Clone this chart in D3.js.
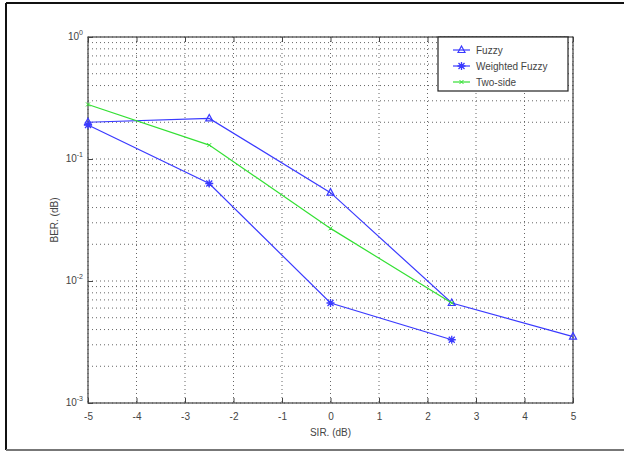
<!DOCTYPE html>
<html>
<head>
<meta charset="utf-8">
<script src="https://cdn.jsdelivr.net/npm/d3@7"></script>
<style>
  body { margin: 0; background: #fff; }
  text { font-family: "Liberation Sans", Arial, sans-serif; fill: #444; }
</style>
</head>
<body>
<svg></svg>
<script>
const sir = [-5, -2.5, 0, 2.5, 5];
const fuzzy = [0.20, 0.215, 0.053, 0.0066, 0.0035];
const weighted = [0.19, 0.063, 0.0066, 0.0033];
const twoSide = [0.28, 0.13, 0.027, 0.0066];
const xTicks = [-5, -4, -3, -2, -1, 0, 1, 2, 3, 4, 5];
const yTicks = [1, 0.1, 0.01, 0.001];
const yExp = ["0", "-1", "-2", "-3"];

const width = 624;
const height = 452;
const plotL = 88, plotR = 573, plotT = 37, plotB = 403;

const svg = d3.select('svg')
    .attr("width", width)
    .attr("height", height);

// outer frame
svg.append("line").attr("x1", 6).attr("x2", 6).attr("y1", 3).attr("y2", 450)
    .attr("stroke", "#111").attr("stroke-width", 2);
svg.append("line").attr("x1", 6).attr("x2", 624).attr("y1", 3).attr("y2", 3)
    .attr("stroke", "#111").attr("stroke-width", 2);
svg.append("line").attr("x1", 6).attr("x2", 624).attr("y1", 450).attr("y2", 450)
    .attr("stroke", "#777").attr("stroke-width", 2);

const x = d3.scaleLinear().domain([-5, 5]).range([plotL, plotR]);
const y = d3.scaleLog().domain([0.001, 1]).range([plotB, plotT]);

// grid
const minor = [];
[0.001, 0.01, 0.1].forEach(d => { for (let k = 1; k < 10; k++) minor.push(d * k); });
minor.push(1);

svg.append("g").selectAll("line").data(minor).enter().append("line")
    .attr("x1", plotL).attr("x2", plotR)
    .attr("y1", d => y(d)).attr("y2", d => y(d))
    .attr("stroke", "#666").attr("stroke-width", 1)
    .attr("stroke-dasharray", "1,3");

svg.append("g").selectAll("line").data(xTicks).enter().append("line")
    .attr("x1", d => x(d)).attr("x2", d => x(d))
    .attr("y1", plotT).attr("y2", plotB)
    .attr("stroke", "#666").attr("stroke-width", 1)
    .attr("stroke-dasharray", "1,3");

// axes (ticks inward, box)
svg.append("g")
    .attr("transform", `translate(0, ${plotB})`)
    .call(d3.axisBottom(x).tickValues(xTicks).tickSize(-5).tickPadding(10).tickFormat(d3.format("d")))
    .call(g => g.select(".domain").remove())
    .call(g => g.selectAll("line").attr("stroke", "#444"))
    .call(g => g.selectAll("text").attr("font-size", 10).attr("fill", "#444")
        .text(d => d < 0 ? "-" + Math.abs(d) : d));

svg.append("g")
    .attr("transform", `translate(0, ${plotT})`)
    .call(d3.axisTop(x).tickValues(xTicks).tickSize(-5).tickFormat(""))
    .call(g => g.select(".domain").remove())
    .call(g => g.selectAll("line").attr("stroke", "#444"));

const yAxis = svg.append("g")
    .attr("transform", `translate(${plotL}, 0)`)
    .call(d3.axisLeft(y).tickValues(yTicks).tickSize(-5).tickPadding(8).tickFormat(""))
    .call(g => g.select(".domain").remove())
    .call(g => g.selectAll("line").attr("stroke", "#444"));

yAxis.selectAll(".tick").append("text")
    .attr("x", -5).attr("y", 2)
    .attr("text-anchor", "end")
    .attr("font-size", 10)
    .each(function(d, i) {
        const t = d3.select(this);
        t.append("tspan").text("10");
        t.append("tspan").attr("dy", -5).attr("font-size", 7).text(yExp[i]);
    });

svg.append("rect")
    .attr("x", plotL).attr("y", plotT)
    .attr("width", plotR - plotL).attr("height", plotB - plotT)
    .attr("fill", "none").attr("stroke", "#444").attr("stroke-width", 1.2);

// axis labels
svg.append("text")
    .attr("x", (plotL + plotR) / 2).attr("y", 436)
    .attr("text-anchor", "middle").attr("font-size", 10)
    .text("SIR. (dB)");

svg.append("text")
    .attr("transform", `translate(58, ${(plotT + plotB) / 2}) rotate(-90)`)
    .attr("text-anchor", "middle").attr("font-size", 10)
    .text("BER. (dB)");

// series
const blue = "#3a3aff";
const green = "#33e033";
const line = d3.line().x(d => x(d[0])).y(d => y(d[1]));

const series = [
    {name: "Fuzzy", vals: fuzzy, color: blue, marker: "tri"},
    {name: "Weighted Fuzzy", vals: weighted, color: blue, marker: "star"},
    {name: "Two-side", vals: twoSide, color: green, marker: "x"},
];

function drawMarker(g, type, cx, cy, color) {
    if (type === "tri") {
        g.append("path")
            .attr("d", `M${cx},${cy - 4}L${cx + 3.5},${cy + 2.5}L${cx - 3.5},${cy + 2.5}Z`)
            .attr("fill", "none").attr("stroke", color).attr("stroke-width", 1.2);
    } else if (type === "star") {
        g.append("path")
            .attr("d", `M${cx - 3},${cy - 3}L${cx + 3},${cy + 3}M${cx - 3},${cy + 3}L${cx + 3},${cy - 3}M${cx - 4},${cy}L${cx + 4},${cy}M${cx},${cy - 4}L${cx},${cy + 4}`)
            .attr("stroke", color).attr("stroke-width", 1.3);
    } else {
        g.append("path")
            .attr("d", `M${cx - 2},${cy - 2}L${cx + 2},${cy + 2}M${cx - 2},${cy + 2}L${cx + 2},${cy - 2}`)
            .attr("stroke", color).attr("stroke-width", 1);
    }
}

series.forEach(s => {
    const pts = s.vals.map((v, i) => [sir[i], v]);
    svg.append("path")
        .datum(pts)
        .attr("d", line)
        .attr("fill", "none")
        .attr("stroke", s.color)
        .attr("stroke-width", 1.2);
    const g = svg.append("g");
    pts.forEach(p => drawMarker(g, s.marker, x(p[0]), y(p[1]), s.color));
});

// legend
const lg = svg.append("g");
lg.append("rect")
    .attr("x", 438).attr("y", 37).attr("width", 130).attr("height", 54)
    .attr("fill", "#fff").attr("stroke", "#222").attr("stroke-width", 1.2);

series.forEach((s, i) => {
    const ly = 50 + i * 16;
    lg.append("line").attr("x1", 453).attr("x2", 470).attr("y1", ly).attr("y2", ly)
        .attr("stroke", s.color).attr("stroke-width", 1.2);
    drawMarker(lg, s.marker, 461.5, ly, s.color);
    lg.append("text").attr("x", 476).attr("y", ly + 4)
        .attr("font-size", 10).text(s.name);
});
</script>
</body>
</html>
